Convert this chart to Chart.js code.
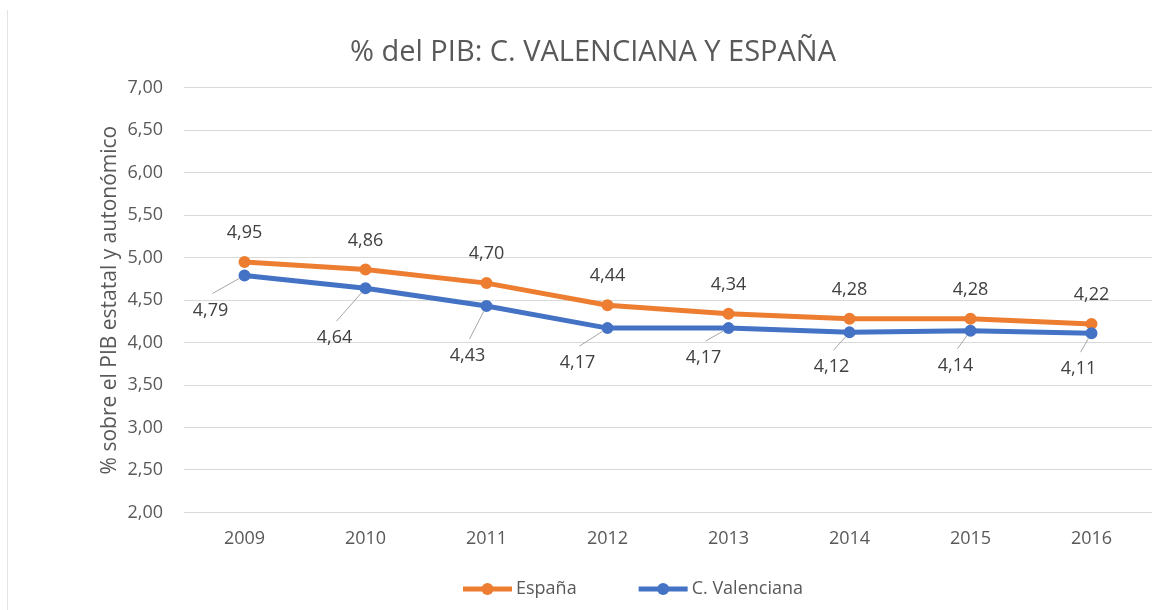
<!DOCTYPE html>
<html>
<head>
<meta charset="utf-8">
<title>% del PIB: C. Valenciana y España</title>
<script src="https://cdn.jsdelivr.net/npm/chart.js@4/dist/chart.umd.min.js"></script>
<style>
    body { margin: 0; background: #fff; }
    #wrap { width: 1166px; height: 610px; }
</style>
</head>
<body>
<div id="wrap"><canvas id="pibChart" width="1166" height="610"></canvas></div>
<script>
// Datos del gráfico
const years = ['2009', '2010', '2011', '2012', '2013', '2014', '2015', '2016'];
const espana = [4.95, 4.86, 4.70, 4.44, 4.34, 4.28, 4.28, 4.22];
const valenciana = [4.79, 4.64, 4.43, 4.17, 4.17, 4.12, 4.14, 4.11];
const yMin = 2, yMax = 7, yStep = 0.5;

// Desplazamiento de las etiquetas de C. Valenciana (con línea guía)
const vLabelDx = [-34, -31, -19, -30, -25, -18, -15, -13];
const vLabelDy = [35, 50, 50, 35, 30, 35, 35, 36];

const ORANGE = '#ED7D31';
const BLUE = '#4472C4';
const TEXT = '#595959';

const fmt = v => v.toFixed(2).replace('.', ',');

Chart.defaults.font.family = "'Open Sans', sans-serif";
Chart.defaults.color = TEXT;

// Etiquetas de datos, leyenda y borde
const labelsPlugin = {
    id: 'labelsPlugin',
    afterDatasetsDraw(chart) {
        const ctx = chart.ctx;
        ctx.save();
        ctx.font = "18px 'Open Sans', sans-serif";
        ctx.fillStyle = '#404040';
        ctx.textAlign = 'center';
        ctx.textBaseline = 'middle';

        // España: encima del punto
        chart.getDatasetMeta(0).data.forEach((pt, i) => {
            ctx.fillText(fmt(espana[i]), pt.x, pt.y - 29);
        });

        // C. Valenciana: abajo a la izquierda con línea guía
        chart.getDatasetMeta(1).data.forEach((pt, i) => {
            const lx = pt.x + vLabelDx[i];
            const ly = pt.y + vLabelDy[i];
            const ex = lx + 2, ey = ly - 17;
            const dx = ex - pt.x, dy = ey - pt.y;
            const len = Math.sqrt(dx * dx + dy * dy);
            ctx.strokeStyle = '#a6a6a6';
            ctx.lineWidth = 1;
            ctx.beginPath();
            ctx.moveTo(pt.x + dx / len * 6, pt.y + dy / len * 6);
            ctx.lineTo(ex, ey);
            ctx.stroke();
            ctx.fillText(fmt(valenciana[i]), lx, ly);
        });
        ctx.restore();
    },
    afterDraw(chart) {
        const ctx = chart.ctx;
        ctx.save();
        // borde izquierdo tenue
        ctx.strokeStyle = '#e3e3e3';
        ctx.lineWidth = 1;
        ctx.beginPath();
        ctx.moveTo(7.5, 10);
        ctx.lineTo(7.5, chart.height);
        ctx.stroke();

        // leyenda
        ctx.font = "18px 'Open Sans', sans-serif";
        ctx.textBaseline = 'middle';
        ctx.textAlign = 'left';
        let x = 463;
        const y = 589;
        chart.data.datasets.forEach(ds => {
            ctx.strokeStyle = ds.borderColor;
            ctx.lineWidth = 5;
            ctx.beginPath();
            ctx.moveTo(x, y);
            ctx.lineTo(x + 49, y);
            ctx.stroke();
            ctx.fillStyle = ds.borderColor;
            ctx.beginPath();
            ctx.arc(x + 24.5, y, 6, 0, Math.PI * 2);
            ctx.fill();
            ctx.fillStyle = TEXT;
            ctx.fillText(ds.label, x + 53, y);
            x += 53 + ctx.measureText(ds.label).width + 62;
        });
        ctx.restore();
    }
};

new Chart(document.getElementById('pibChart'), {
    type: 'line',
    data: {
        labels: years,
        datasets: [{
            label: 'España',
            data: espana,
            borderColor: ORANGE,
            backgroundColor: ORANGE,
            borderWidth: 5,
            pointRadius: 5,
            pointBorderWidth: 2,
            pointBackgroundColor: ORANGE,
            tension: 0,
            order: 2
        }, {
            label: 'C. Valenciana',
            data: valenciana,
            borderColor: BLUE,
            backgroundColor: BLUE,
            borderWidth: 5,
            pointRadius: 5,
            pointBorderWidth: 2,
            pointBackgroundColor: BLUE,
            tension: 0,
            order: 1
        }]
    },
    options: {
        responsive: false,
        animation: false,
        layout: {
            padding: { left: 34, right: 14, top: 0, bottom: 52 }
        },
        plugins: {
            legend: { display: false },
            tooltip: { enabled: false },
            title: {
                display: true,
                text: '% del PIB: C. VALENCIANA Y ESPAÑA',
                color: TEXT,
                font: { size: 29, weight: 'normal' },
                padding: { top: 35, bottom: 18 }
            }
        },
        scales: {
            x: {
                offset: true,
                grid: { display: false },
                border: { display: false },
                ticks: {
                    color: TEXT,
                    font: { size: 18 },
                    padding: 8,
                    maxRotation: 0
                }
            },
            y: {
                min: yMin,
                max: yMax,
                grid: { color: '#d9d9d9', lineWidth: 1, drawTicks: false },
                border: { display: false },
                ticks: {
                    stepSize: yStep,
                    color: TEXT,
                    font: { size: 18 },
                    padding: 21,
                    callback: v => fmt(v)
                },
                title: {
                    display: true,
                    text: '% sobre el PIB estatal y autonómico',
                    color: TEXT,
                    font: { size: 21 },
                    padding: { top: 63, bottom: 0 }
                },
                afterFit(scale) {
                    scale.width = 150;
                }
            }
        }
    },
    plugins: [labelsPlugin]
});
</script>
</body>
</html>
